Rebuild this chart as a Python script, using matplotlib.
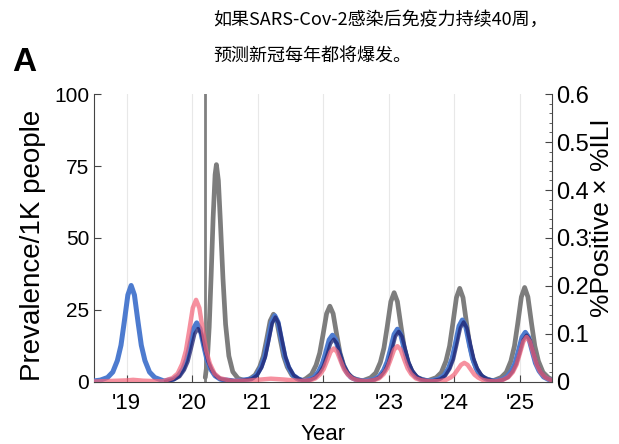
import numpy as np
import matplotlib
matplotlib.use("Agg")
import matplotlib.pyplot as plt
from matplotlib.ticker import MultipleLocator

plt.rcParams['font.family'] = ['Liberation Sans', 'DejaVu Sans']

# year ticks
year_ticks = [2019, 2020, 2021, 2022, 2023, 2024, 2025]
year_labels = ["'19", "'20", "'21", "'22", "'23", "'24", "'25"]
intervention = 2020.2

# blue series
blue_t = [2018.50, 2018.60,
          2018.71, 2018.79, 2018.86, 2018.915, 2018.965, 2019.02, 2019.07, 2019.12, 2019.175, 2019.225, 2019.28, 2019.35, 2019.43,
          2019.57,
          2019.71, 2019.79, 2019.86, 2019.915, 2019.965, 2020.02, 2020.07, 2020.12, 2020.175, 2020.225, 2020.28, 2020.35, 2020.43,
          2020.66,
          2020.90, 2020.98, 2021.05, 2021.105, 2021.155, 2021.21, 2021.26, 2021.31, 2021.365, 2021.415, 2021.47, 2021.54, 2021.62,
          2021.70,
          2021.78, 2021.86, 2021.93, 2021.985, 2022.035, 2022.09, 2022.14, 2022.19, 2022.245, 2022.295, 2022.35, 2022.42, 2022.50,
          2022.63,
          2022.77, 2022.85, 2022.92, 2022.975, 2023.025, 2023.08, 2023.13, 2023.18, 2023.235, 2023.285, 2023.34, 2023.41, 2023.49,
          2023.62,
          2023.76, 2023.84, 2023.91, 2023.965, 2024.015, 2024.07, 2024.12, 2024.17, 2024.225, 2024.275, 2024.33, 2024.40, 2024.48,
          2024.60,
          2024.72, 2024.80, 2024.87, 2024.925, 2024.975, 2025.03, 2025.08, 2025.13, 2025.185, 2025.235, 2025.29, 2025.36, 2025.44,
          2025.50]
blue_v = [0.3, 0.6,
          1.5, 3.4, 7.4, 12.7, 20.8, 30.2, 33.5, 30.2, 20.8, 12.7, 7.4, 3.4, 1.5,
          0.3,
          0.9, 2.1, 4.5, 7.8, 12.7, 18.5, 20.5, 18.5, 12.7, 7.8, 4.5, 2.1, 0.9,
          0.25,
          1.0, 2.3, 5.1, 8.7, 14.3, 20.7, 23.0, 20.7, 14.3, 8.7, 5.1, 2.3, 1.0,
          0.35,
          0.73, 1.6, 3.6, 6.2, 10.0, 14.6, 16.2, 14.6, 10.0, 6.2, 3.6, 1.6, 0.73,
          0.25,
          0.82, 1.8, 4.0, 7.0, 11.3, 16.5, 18.3, 16.5, 11.3, 7.0, 4.0, 1.8, 0.82,
          0.25,
          0.97, 2.2, 4.7, 8.2, 13.3, 19.4, 21.5, 19.4, 13.3, 8.2, 4.7, 2.2, 0.97,
          0.25,
          0.77, 1.7, 3.8, 6.5, 10.7, 15.5, 17.2, 15.5, 10.7, 6.5, 3.8, 1.7, 0.77,
          0.5]

# red series
red_t = [2018.50, 2019.00, 2019.10, 2019.25, 2019.55,
         2019.70, 2019.78, 2019.85, 2019.905, 2019.955, 2020.01, 2020.06, 2020.11, 2020.165, 2020.215, 2020.27, 2020.34, 2020.42,
         2020.60, 2020.85, 2021.05, 2021.20, 2021.40, 2021.65,
         2021.80, 2021.88, 2021.95, 2022.005, 2022.055, 2022.11, 2022.16, 2022.21, 2022.265, 2022.315, 2022.37, 2022.44, 2022.52,
         2022.64,
         2022.77, 2022.85, 2022.92, 2022.975, 2023.025, 2023.08, 2023.13, 2023.18, 2023.235, 2023.285, 2023.34, 2023.41, 2023.49,
         2023.63,
         2023.79, 2023.87, 2023.94, 2023.995, 2024.045, 2024.10, 2024.15, 2024.20, 2024.255, 2024.305, 2024.36, 2024.43, 2024.51,
         2024.62,
         2024.74, 2024.82, 2024.89, 2024.945, 2024.995, 2025.05, 2025.10, 2025.15, 2025.205, 2025.255, 2025.31, 2025.38, 2025.46,
         2025.50]
red_v = [0.1, 0.5, 0.7, 0.4, 0.15,
         1.3, 2.9, 6.3, 10.8, 17.7, 25.7, 28.5, 25.7, 17.7, 10.8, 6.3, 2.9, 1.3,
         0.3, 0.4, 0.8, 1.1, 0.8, 0.3,
         0.52, 1.2, 2.6, 4.4, 7.2, 10.4, 11.6, 10.4, 7.2, 4.4, 2.6, 1.2, 0.52,
         0.2,
         0.56, 1.2, 2.7, 4.7, 7.7, 11.2, 12.4, 11.2, 7.7, 4.7, 2.7, 1.2, 0.56,
         0.15,
         0.3, 0.66, 1.5, 2.5, 4.1, 5.9, 6.6, 5.9, 4.1, 2.5, 1.5, 0.66, 0.3,
         0.15,
         0.7, 1.6, 3.4, 5.9, 9.7, 14.0, 15.6, 14.0, 9.7, 5.9, 3.4, 1.6, 0.7,
         0.4]

# gray series (starts at the intervention line)
gray_t = [2020.20, 2020.23, 2020.26, 2020.29, 2020.32, 2020.35, 2020.37, 2020.40, 2020.43, 2020.47, 2020.51, 2020.56, 2020.62, 2020.70, 2020.80,
          2020.88, 2020.96, 2021.03, 2021.085, 2021.135, 2021.19, 2021.24, 2021.29, 2021.345, 2021.395, 2021.45, 2021.52, 2021.60,
          2021.68,
          2021.74, 2021.82, 2021.89, 2021.945, 2021.995, 2022.05, 2022.10, 2022.15, 2022.205, 2022.255, 2022.31, 2022.38, 2022.46,
          2022.59,
          2022.72, 2022.80, 2022.87, 2022.925, 2022.975, 2023.03, 2023.08, 2023.13, 2023.185, 2023.235, 2023.29, 2023.36, 2023.44,
          2023.58,
          2023.72, 2023.80, 2023.87, 2023.925, 2023.975, 2024.03, 2024.08, 2024.13, 2024.185, 2024.235, 2024.29, 2024.36, 2024.44,
          2024.58,
          2024.71, 2024.79, 2024.86, 2024.915, 2024.965, 2025.02, 2025.07, 2025.12, 2025.175, 2025.225, 2025.28, 2025.35, 2025.43,
          2025.50]
gray_v = [1.5, 7.0, 19.0, 37.0, 57.0, 72.0, 75.5, 70.0, 56.0, 36.0, 20.0, 9.0, 3.5, 1.2, 0.4,
          1.05, 2.35, 5.2, 8.9, 14.6, 21.2, 23.5, 21.2, 14.6, 8.9, 5.2, 2.35, 1.05,
          0.4,
          1.2, 2.6, 5.8, 10.0, 16.3, 23.7, 26.3, 23.7, 16.3, 10.0, 5.8, 2.6, 1.2,
          0.3,
          1.4, 3.1, 6.8, 11.8, 19.2, 27.9, 31.0, 27.9, 19.2, 11.8, 6.8, 3.1, 1.4,
          0.3,
          1.45, 3.25, 7.2, 12.4, 20.2, 29.3, 32.5, 29.3, 20.2, 12.4, 7.2, 3.25, 1.45,
          0.3,
          1.5, 3.3, 7.2, 12.5, 20.3, 29.5, 32.8, 29.5, 20.3, 12.5, 7.2, 3.3, 1.5,
          0.6]

# dark navy series
navy_t = [2019.60,
          2019.73, 2019.81, 2019.88, 2019.935, 2019.985, 2020.04, 2020.09, 2020.14, 2020.195, 2020.245, 2020.30, 2020.37, 2020.45,
          2020.68,
          2020.91, 2020.99, 2021.06, 2021.115, 2021.165, 2021.22, 2021.27, 2021.32, 2021.375, 2021.425, 2021.48, 2021.55, 2021.63,
          2021.71,
          2021.80, 2021.88, 2021.95, 2022.005, 2022.055, 2022.11, 2022.16, 2022.21, 2022.265, 2022.315, 2022.37, 2022.44, 2022.52,
          2022.65,
          2022.79, 2022.87, 2022.94, 2022.995, 2023.045, 2023.10, 2023.15, 2023.20, 2023.255, 2023.305, 2023.36, 2023.43, 2023.51,
          2023.64,
          2023.78, 2023.86, 2023.93, 2023.985, 2024.035, 2024.09, 2024.14, 2024.19, 2024.245, 2024.295, 2024.35, 2024.42, 2024.50,
          2024.62,
          2024.74, 2024.82, 2024.89, 2024.945, 2024.995, 2025.05, 2025.10, 2025.15, 2025.205, 2025.255, 2025.31, 2025.38, 2025.46,
          2025.50]
navy_v = [0.1,
          0.83, 1.85, 4.1, 7.0, 11.5, 16.7, 18.5, 16.7, 11.5, 7.0, 4.1, 1.85, 0.83,
          0.2,
          1.0, 2.25, 5.0, 8.6, 14.0, 20.3, 22.5, 20.3, 14.0, 8.6, 5.0, 2.25, 1.0,
          0.3,
          0.67, 1.5, 3.3, 5.6, 9.2, 13.3, 14.8, 13.3, 9.2, 5.6, 3.3, 1.5, 0.67,
          0.2,
          0.79, 1.75, 3.85, 6.65, 10.9, 15.8, 17.5, 15.8, 10.9, 6.65, 3.85, 1.75, 0.79,
          0.2,
          0.94, 2.1, 4.6, 7.9, 12.9, 18.7, 20.8, 18.7, 12.9, 7.9, 4.6, 2.1, 0.94,
          0.2,
          0.73, 1.6, 3.6, 6.2, 10.0, 14.6, 16.2, 14.6, 10.0, 6.2, 3.6, 1.6, 0.73,
          0.45]

fig = plt.figure(figsize=(6.19, 4.44), dpi=100)
ax = fig.add_axes([0.152, 0.140, 0.739, 0.648])

for yr in year_ticks:
    ax.axvline(yr, color='#e8e8e8', lw=0.8, zorder=0)
ax.axvline(intervention, color='#808080', lw=2, zorder=1)

ax.plot(gray_t, gray_v, color='#7d7d7d', lw=3.4, zorder=2, solid_capstyle='round')
ax.plot(blue_t, blue_v, color='#4d7bcf', lw=3.6, zorder=3, solid_capstyle='round')
ax.plot(navy_t, navy_v, color='#1e216e', lw=2.6, alpha=0.75, zorder=4)
ax.plot(red_t, red_v, color='#f3657a', lw=3.2, alpha=0.72, zorder=5)

ax.set_xlim(2018.505, 2025.48)
ax.set_ylim(0, 100)
ax.set_xticks(year_ticks)
ax.set_xticklabels(year_labels)
ax.set_yticks([0, 25, 50, 75, 100])
ax.tick_params(direction='in', length=5, labelsize=15, color='#444444')
ax.tick_params(axis='x', pad=8, labelsize=16)
for s in ['top', 'right']:
    ax.spines[s].set_visible(False)
for s in ['left', 'bottom']:
    ax.spines[s].set_color('#444444')
ax.set_ylabel('Prevalence/1K people', fontsize=20)
ax.yaxis.set_label_coords(-0.105, 0.475)
ax.set_xlabel('Year', fontsize=16)
ax.xaxis.set_label_coords(0.5, -0.145)

ax2 = ax.twinx()
ax2.set_ylim(0, 0.6)
ax2.set_yticks([0, 0.1, 0.2, 0.3, 0.4, 0.5, 0.6])
ax2.set_yticklabels(['0', '0.1', '0.2', '0.3', '0.4', '0.5', '0.6'])
ax2.yaxis.set_minor_locator(MultipleLocator(0.02))
ax2.tick_params(direction='in', length=5, labelsize=17, color='#444444')
ax2.tick_params(which='minor', direction='in', length=2.5, color='#444444')
for s in ['top', 'left', 'bottom']:
    ax2.spines[s].set_visible(False)
ax2.spines['right'].set_color('#444444')
ax2.set_ylabel('%Positive × %ILI', fontsize=19)
ax2.yaxis.set_label_coords(1.085, 0.57)

fig.text(0.02, 0.86, 'A', fontsize=24, fontweight='bold',
         family=['Liberation Sans Narrow', 'Liberation Sans', 'DejaVu Sans'], va='center')
fig.text(0.344, 0.955, '如果SARS-Cov-2感染后免疫力持续40周，', fontsize=13,
         family=['Noto Sans CJK SC', 'DejaVu Sans'], va='center')
fig.text(0.344, 0.874, '预测新冠每年都将爆发。', fontsize=13,
         family=['Noto Sans CJK SC', 'DejaVu Sans'], va='center')

fig.savefig('out.png', dpi=100)
